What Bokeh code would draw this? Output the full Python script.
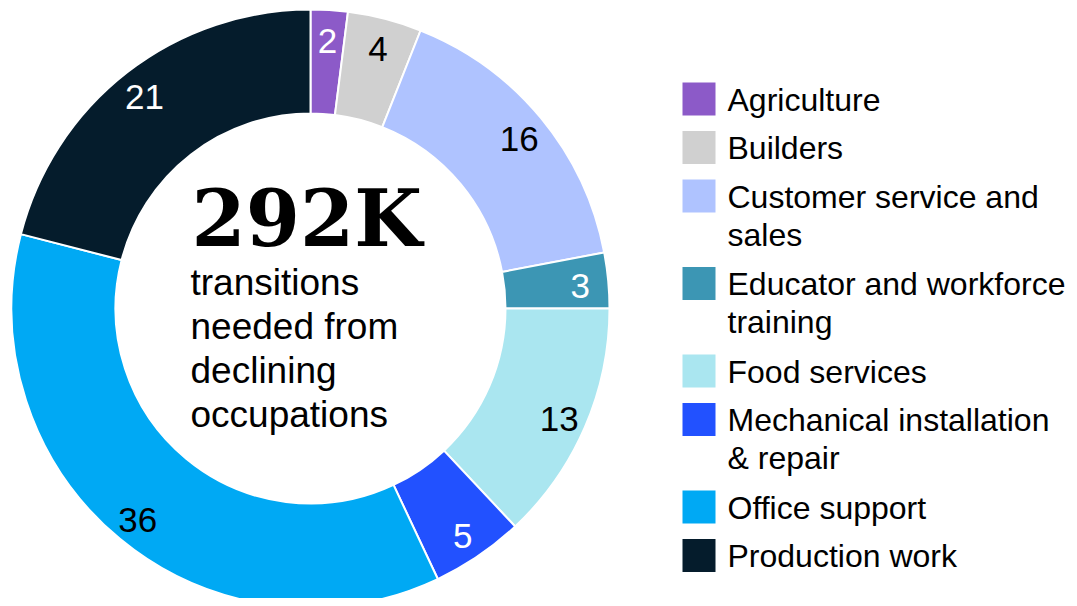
import math
from bokeh.plotting import figure
from bokeh.models import Range1d, ColumnDataSource
from bokeh.core.properties import value
from bokeh.embed import file_html
from bokeh.resources import INLINE

# ---- data ----
categories = ["Agriculture", "Builders", "Customer service and\nsales",
              "Educator and workforce\ntraining", "Food services",
              "Mechanical installation\n& repair", "Office support", "Production work"]
values = [2, 4, 16, 3, 13, 5, 36, 21]
colors = ["#8C5AC8", "#D0D0D0", "#AFC3FF", "#3C96B4", "#AAE6F0", "#2251FF", "#00A9F4", "#051C2C"]
label_colors = ["white", "black", "black", "white", "black", "white", "black", "white"]
total_text = "292K"
center_lines = ["transitions", "needed from", "declining", "occupations"]

# ---- layout (image pixel coords; data y = H - image_y) ----
W, H = 1069, 598
def Y(img_y):
    return H - img_y

cx, cy = 310, Y(308)
r_out, r_in, r_lab = 299, 195, 271

p = figure(width=W, height=H, output_backend="svg", toolbar_location=None,
           x_range=Range1d(0, W), y_range=Range1d(0, H), min_border=0)
p.axis.visible = False
p.grid.visible = False
p.outline_line_color = None
p.background_fill_color = "white"
p.border_fill_color = "white"

tot = sum(values)
starts, ends, lx, ly = [], [], [], []
cum = 0.0
for v in values:
    a0 = math.pi / 2 - cum / tot * 2 * math.pi
    cum += v
    a1 = math.pi / 2 - cum / tot * 2 * math.pi
    starts.append(a0)
    ends.append(a1)
    mid = (a0 + a1) / 2
    lx.append(cx + r_lab * math.cos(mid))
    ly.append(cy + r_lab * math.sin(mid) - 3)

src = ColumnDataSource(dict(start=starts, end=ends, color=colors,
                            lx=lx, ly=ly, lab=[str(v) for v in values], lc=label_colors))
p.annular_wedge(x=cx, y=cy, inner_radius=r_in, outer_radius=r_out,
                start_angle="start", end_angle="end", direction="clock",
                fill_color="color", line_color="white", line_width=2, source=src)
p.text(x="lx", y="ly", text="lab", text_color="lc", source=src,
       text_font=value("Liberation Sans"), text_font_size="35px",
       text_align="center", text_baseline="middle")

# center text
p.text(x=[191], y=[Y(245 - 0.35 * 78)], text=[total_text], text_font=value("DejaVu Serif"),
       text_font_style="bold", text_font_size="78px", text_color="black",
       text_align="left", text_baseline="middle")
p.text(x=[190] * len(center_lines),
       y=[Y(295 + i * 44 - 13) for i in range(len(center_lines))],
       text=center_lines, text_font=value("Liberation Sans"), text_font_size="37px",
       text_color="black", text_align="left", text_baseline="middle")

# legend
sq = 33
ys = []
ytop = 82
for c in categories:
    ys.append(ytop)
    ytop += 48.5 + 39 * c.count("\n")
lsrc = ColumnDataSource(dict(x=[682 + sq / 2] * len(categories),
                             y=[Y(t + sq / 2) for t in ys],
                             tx=[727] * len(categories),
                             ty=[Y(t - 1) for t in ys],
                             text=categories, color=colors))
p.rect(x="x", y="y", width=sq, height=sq, fill_color="color", line_color=None, source=lsrc)
p.text(x="tx", y="ty", text="text", source=lsrc, text_font=value("Liberation Sans"),
       text_font_size="32px", text_color="black", text_align="left",
       text_baseline="top", text_line_height=1.06)

open("out.html", "w").write(file_html(p, INLINE))
